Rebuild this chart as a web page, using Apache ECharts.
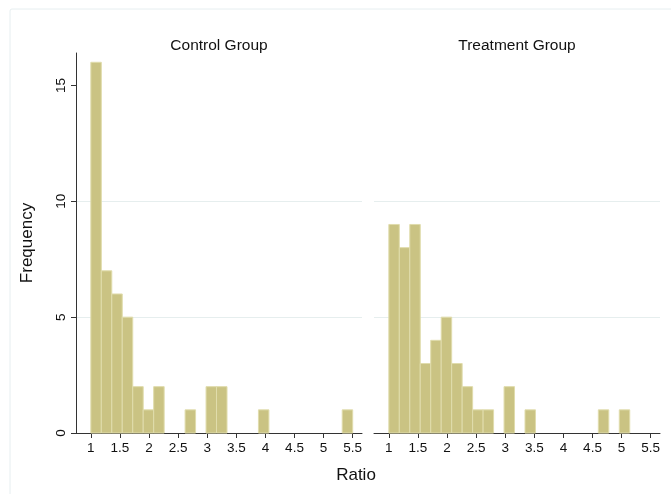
<!DOCTYPE html>
<html><head><meta charset="utf-8">
<script src="https://cdn.jsdelivr.net/npm/echarts@6/dist/echarts.min.js"></script>
<style>html,body{margin:0;padding:0;background:#fff}#c{width:671px;height:494px}</style>
</head><body><div id="c"></div>
<script>
// Histogram data: bins of width 0.18 starting at 1
const binStart = 1;
const binWidth = 0.18;
const controlCounts   = [16,7,6,5,2,1,2,0,0,1,0,2,2,0,0,0,1,0,0,0,0,0,0,0,1];
const treatmentCounts = [9,8,9,3,4,5,3,2,1,1,0,2,0,1,0,0,0,0,0,0,1,0,1,0,0];
const xTicks = [1,1.5,2,2.5,3,3.5,4,4.5,5,5.5];
const yTicks = [0,5,10,15];
const panelTitles = ['Control Group','Treatment Group'];
const xTitle = 'Ratio';
const yTitle = 'Frequency';

const FONT = 'Helvetica, Arial, "Liberation Sans", sans-serif';
function toData(counts){
  return counts.map((c,i)=>[binStart+i*binWidth, binStart+(i+1)*binWidth, c]).filter(d=>d[2]>0);
}
function renderBar(params, api){
  const p0 = api.coord([api.value(0), api.value(2)]);
  const p1 = api.coord([api.value(1), 0]);
  return {type:'rect', shape:{x:p0[0], y:p0[1], width:p1[0]-p0[0], height:p1[1]-p0[1]},
    style:{fill:'#cac383', stroke:'#e0dcac', lineWidth:1}};
}
function xAxis(idx){
  return {type:'value', gridIndex:idx, min:0.745, max:5.66,
    axisLine:{show:true, lineStyle:{color:'#333', width:1}},
    axisTick:{show:true, customValues:xTicks, length:5, lineStyle:{color:'#333'}},
    axisLabel:{customValues:xTicks, color:'#111', fontSize:13.5, fontFamily:FONT, margin:8},
    splitLine:{show:false}};
}
function yAxis(idx, showAxis){
  return {type:'value', gridIndex:idx, min:0, max:16.4, interval:5,
    name: showAxis ? yTitle : '', nameLocation:'middle', nameGap:40, nameRotate:90,
    nameTextStyle:{color:'#111', fontSize:17, fontFamily:FONT},
    axisLine:{show:showAxis, lineStyle:{color:'#333', width:1}},
    axisTick:{show:showAxis, customValues:yTicks, length:5, lineStyle:{color:'#333'}},
    axisLabel:{show:showAxis, customValues:yTicks, rotate:90, color:'#111', fontSize:13.5, fontFamily:FONT, margin:8},
    splitLine:{show:true, showMinLine:false, showMaxLine:false, lineStyle:{color:'#e6eeee', width:1}}};
}
const chart = echarts.init(document.getElementById('c'), null, {renderer:'canvas'});
chart.setOption({
  animation:false,
  backgroundColor:'#fff',
  graphic:[{type:'rect', shape:{x:10, y:9, width:700, height:520, r:2}, style:{fill:'none', stroke:'#e6eef0', lineWidth:1}, z:-10}],
  title:[
    {text:panelTitles[0], left:214, top:33, textAlign:'center', textStyle:{fontSize:15.5, fontWeight:'normal', color:'#111', fontFamily:FONT}},
    {text:panelTitles[1], left:512, top:33, textAlign:'center', textStyle:{fontSize:15.5, fontWeight:'normal', color:'#111', fontFamily:FONT}},
    {text:xTitle, left:351, top:462, textAlign:'center', textStyle:{fontSize:17, fontWeight:'normal', color:'#111', fontFamily:FONT}}
  ],
  grid:[
    {left:76, right:309, top:53, bottom:61},
    {left:374, right:11, top:53, bottom:61}
  ],
  xAxis:[xAxis(0), xAxis(1)],
  yAxis:[yAxis(0,true), yAxis(1,false)],
  series:[
    {type:'custom', xAxisIndex:0, yAxisIndex:0, renderItem:renderBar, encode:{x:[0,1], y:2}, data:toData(controlCounts)},
    {type:'custom', xAxisIndex:1, yAxisIndex:1, renderItem:renderBar, encode:{x:[0,1], y:2}, data:toData(treatmentCounts)}
  ]
});
</script></body></html>
